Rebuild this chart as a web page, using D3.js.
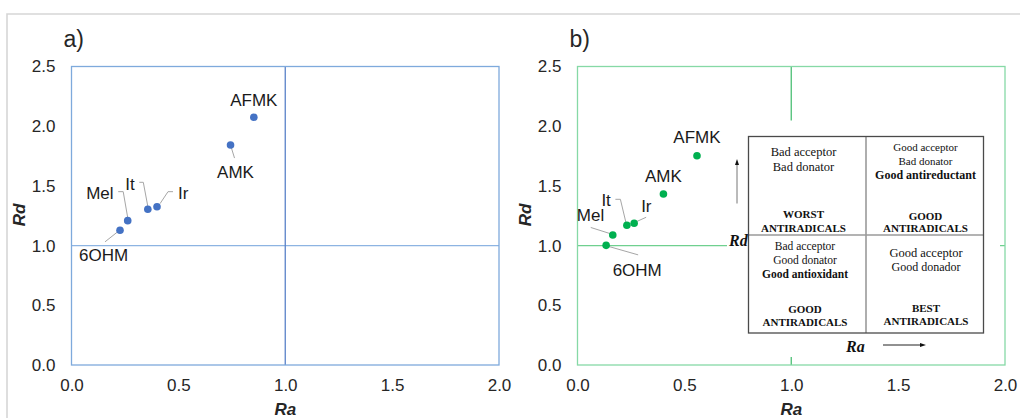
<!DOCTYPE html>
<html><head><meta charset="utf-8">
<script src="https://cdn.jsdelivr.net/npm/d3@7"></script>
<style>
body{margin:0;background:#fff;}
svg{display:block;}
</style></head>
<body><svg id="c" width="1020" height="418"></svg>
<script>
// ---- data ----
const compounds = ["AFMK","AMK","Ir","It","Mel","6OHM"];
const raA = [0.853,0.744,0.400,0.357,0.263,0.227];
const rdA = [2.075,1.842,1.326,1.304,1.209,1.128];
const raB = [0.559,0.402,0.265,0.231,0.165,0.134];
const rdB = [1.753,1.432,1.187,1.170,1.089,1.002];
const xTicks = [0,0.5,1,1.5,2];
const yTicks = [0,0.5,1,1.5,2,2.5];
const panelTitles = ["a)","b)"];

// ---- label layout (pixel offsets relative to each point) ----
const labA = [
 {dx:0,dy:-11.5,a:"middle",lead:null},
 {dx:5,dy:32.5,a:"middle",lead:[[0,0],[4,13]]},
 {dx:21,dy:-7.5,a:"start",lead:[[3,-3],[11,-15],[16,-15]]},
 {dx:-22.5,dy:-19.5,a:"start",lead:[[-8.5,-27],[-4.5,-27],[0,-3]]},
 {dx:-41.5,dy:-21.5,a:"start",lead:[[-9.5,-29],[-4.5,-29],[0,-3]]},
 {dx:-41,dy:30.5,a:"start",lead:[[-15,11.5],[-3,2]]}
];
const labB = [
 {dx:0,dy:-12.5,a:"middle",lead:null},
 {dx:0,dy:-12,a:"middle",lead:null},
 {dx:7,dy:-11.5,a:"start",lead:[[2,-1.5],[12,-6]]},
 {dx:-25.5,dy:-19.5,a:"start",lead:[[-11.5,-26],[-6.5,-26],[-1,-3]]},
 {dx:-36,dy:-13.5,a:"start",lead:[[-22,-7.5],[-1.5,-1]]},
 {dx:6.5,dy:30.5,a:"start",lead:[[0.5,0.5],[32,9.5]]}
];

const svg = d3.select("#c");
// outer frame
svg.append("path").attr("d","M7,418V14H1020").attr("fill","none")
  .attr("stroke","#d6d6d6").attr("stroke-width",1.6);

function panel(o){
  const x = d3.scaleLinear().domain([0,2]).range([o.x0,o.x0+427.5]);
  const y = d3.scaleLinear().domain([0,2.5]).range([365,66.5]);
  const g = svg.append("g");
  // quadrant lines
  g.append("line").attr("x1",x(0)).attr("x2",x(2)).attr("y1",y(1)).attr("y2",y(1))
    .attr("stroke",o.hcol).attr("stroke-width",1.3);
  g.append("line").attr("x1",x(1)).attr("x2",x(1)).attr("y1",y(0)).attr("y2",y(2.5))
    .attr("stroke",o.vcol).attr("stroke-width",1.3);
  // border
  g.append("rect").attr("x",x(0)).attr("y",y(2.5)).attr("width",x(2)-x(0)).attr("height",y(0)-y(2.5))
    .attr("fill","none").attr("stroke",o.bcol).attr("stroke-width",1.3);
  // axes (labels only)
  const ax = d3.axisBottom(x).tickValues(xTicks).tickFormat(d3.format(".1f")).tickSize(0).tickPadding(14);
  const ay = d3.axisLeft(y).tickValues(yTicks).tickFormat(d3.format(".1f")).tickSize(0).tickPadding(16);
  const gx = g.append("g").attr("transform",`translate(0,${y(0)})`).call(ax);
  const gy = g.append("g").attr("transform",`translate(${x(0)},0)`).call(ay);
  [gx,gy].forEach(a=>{a.select(".domain").remove();
    a.selectAll("text").attr("font-family","Liberation Sans, Arial, sans-serif").attr("font-size",17).attr("fill","#262626");});
  gx.selectAll("text").attr("dy","0.71em");
  // axis titles
  g.append("text").attr("x",x(1)).attr("y",415).attr("text-anchor","middle")
    .attr("font-family","Liberation Sans, Arial, sans-serif").attr("font-size",17)
    .attr("font-weight","bold").attr("font-style","italic").attr("fill","#262626").text("Ra");
  g.append("text").attr("transform",`translate(${o.x0-46.5},215) rotate(-90)`).attr("text-anchor","middle")
    .attr("font-family","Liberation Sans, Arial, sans-serif").attr("font-size",17)
    .attr("font-weight","bold").attr("font-style","italic").attr("fill","#262626").text("Rd");
  // panel title
  g.append("text").attr("x",o.x0-8).attr("y",47).attr("font-family","Liberation Sans, Arial, sans-serif")
    .attr("font-size",23).attr("fill","#262626").text(o.title);
  if(o.inset) o.inset(g,x,y);
  // leaders
  const pts = compounds.map((c,i)=>({c,px:x(o.ra[i]),py:y(o.rd[i]),l:o.lab[i]}));
  pts.forEach(p=>{
    if(p.l.lead){
      g.append("path").attr("d",d3.line()(p.l.lead.map(q=>[p.px+q[0],p.py+q[1]])))
       .attr("fill","none").attr("stroke","#a6a6a6").attr("stroke-width",1);
    }
  });
  g.selectAll("circle.pt").data(pts).join("circle").attr("class","pt")
    .attr("cx",d=>d.px).attr("cy",d=>d.py).attr("r",3.8).attr("fill",o.dot);
  g.selectAll("text.lab").data(pts).join("text").attr("class","lab")
    .attr("x",d=>d.px+d.l.dx).attr("y",d=>d.py+d.l.dy).attr("text-anchor",d=>d.l.a)
    .attr("font-family","Liberation Sans, Arial, sans-serif").attr("font-size",17).attr("fill","#1a1a1a")
    .text(d=>d.c);
}

function inset(g,x,y){
  // white cover
  g.append("rect").attr("x",727).attr("y",120.5).attr("width",273).attr("height",236.5).attr("fill","#fff");
  const L=748.5,R=983.5,T=136.5,B=333,MX=866,MY=235;
  g.append("line").attr("x1",MX).attr("x2",MX).attr("y1",T).attr("y2",B).attr("stroke","#9a9a9a").attr("stroke-width",1.6);
  g.append("line").attr("x1",L).attr("x2",R).attr("y1",MY).attr("y2",MY).attr("stroke","#9a9a9a").attr("stroke-width",1.6);
  g.append("rect").attr("x",L).attr("y",T).attr("width",R-L).attr("height",B-T)
    .attr("fill","none").attr("stroke","#4a4a4a").attr("stroke-width",1.3);
  const serif="Liberation Serif, Times New Roman, serif";
  const blocks=[
    [803.5,[["Bad acceptor",156,12.5,false],["Bad donator",171,12.5,false],["WORST",218,11,true],["ANTIRADICALS",231.5,11,true]]],
    [925.5,[["Good acceptor",151,11,false],["Bad donator",164.5,11,false],["Good antireductant",179,12,true],["GOOD",219.5,11,true],["ANTIRADICALS",232,11,true]]],
    [805,[["Bad acceptor",250,11.5,false],["Good donator",264,11.5,false],["Good antioxidant",277.5,11.5,true],["GOOD",313,11,true],["ANTIRADICALS",326,11,true]]],
    [926,[["Good acceptor",257,12.5,false],["Good donador",271,12,false],["BEST",312,11,true],["ANTIRADICALS",325,11,true]]]
  ];
  blocks.forEach(([cx,lines])=>lines.forEach(([t,yy,fs,b])=>{
    g.append("text").attr("x",cx).attr("y",yy).attr("text-anchor","middle").attr("font-family",serif)
      .attr("font-size",fs).attr("font-weight",b?"bold":"normal").attr("fill","#111").text(t);
  }));
  g.append("text").attr("x",729).attr("y",246).attr("font-family",serif).attr("font-size",16)
    .attr("font-weight","bold").attr("font-style","italic").attr("fill","#111").text("Rd");
  g.append("text").attr("x",846).attr("y",351.5).attr("font-family",serif).attr("font-size",16)
    .attr("font-weight","bold").attr("font-style","italic").attr("fill","#111").text("Ra");
  // arrows
  g.append("line").attr("x1",737).attr("x2",737).attr("y1",203.5).attr("y2",164).attr("stroke","#777").attr("stroke-width",1);
  g.append("path").attr("d","M737,159L735,165L739,165Z").attr("fill","#111");
  g.append("line").attr("x1",883).attr("x2",921).attr("y1",345).attr("y2",345).attr("stroke","#222").attr("stroke-width",1);
  g.append("path").attr("d","M926,345L920,343L920,347Z").attr("fill","#111");
}

panel({x0:71.5,ra:raA,rd:rdA,lab:labA,title:panelTitles[0],dot:"#4472c4",
  hcol:"#8db4e2",vcol:"#5a82c8",bcol:"#7eaadc"});
panel({x0:577.5,ra:raB,rd:rdB,lab:labB,title:panelTitles[1],dot:"#00b050",
  hcol:"#6fd08f",vcol:"#4cbf74",bcol:"#86d9a6",inset:inset});
</script></body></html>
